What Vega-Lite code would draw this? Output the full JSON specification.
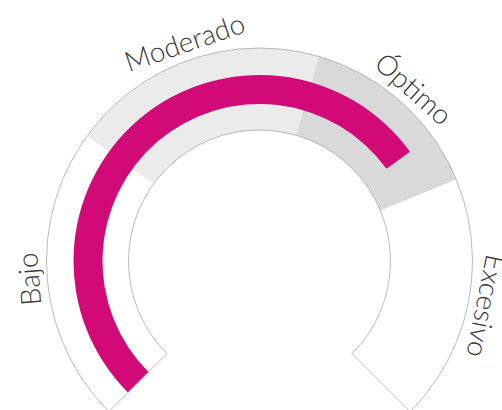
{
  "$schema": "https://vega.github.io/schema/vega-lite/v6.json",
  "autosize": "none",
  "width": 485,
  "height": 298,
  "padding": {"left": 17, "top": 112, "right": 0, "bottom": 0},
  "background": "white",
  "config": {"view": {"stroke": null}},
  "datasets": {
    "bandas": [
      {"banda": "Bajo", "inicio": 0, "fin": 30},
      {"banda": "Moderado", "inicio": 30, "fin": 56},
      {"banda": "Óptimo", "inicio": 56, "fin": 75},
      {"banda": "Excesivo", "inicio": 75, "fin": 100}
    ],
    "valor": [{"inicio": 0, "valor": 70}],
    "marco": [{"inicio": 0, "fin": 100}]
  },
  "layer": [
    {
      "data": {"name": "bandas"},
      "mark": {"type": "arc", "radius": 213, "radius2": 131, "stroke": null},
      "encoding": {
        "theta": {"field": "inicio", "type": "quantitative", "stack": null, "scale": {"domain": [0, 100], "range": [-2.35619, 2.35619]}},
        "theta2": {"field": "fin"},
        "color": {"field": "banda", "type": "nominal", "legend": null,
          "scale": {"domain": ["Bajo", "Moderado", "Óptimo", "Excesivo"], "range": ["#ffffff", "#ebebeb", "#d9d9d9", "#ffffff"]}}
      }
    },
    {
      "data": {"name": "valor"},
      "mark": {"type": "arc", "radius": 186, "radius2": 157, "color": "#d10a78"},
      "encoding": {
        "theta": {"field": "inicio", "type": "quantitative", "stack": null},
        "theta2": {"field": "valor"}
      }
    },
    {
      "data": {"name": "marco"},
      "mark": {"type": "arc", "radius": 213, "radius2": 131, "fillOpacity": 0, "stroke": "#a8a8a8", "strokeWidth": 0.8},
      "encoding": {
        "theta": {"field": "inicio", "type": "quantitative", "stack": null},
        "theta2": {"field": "fin"}
      }
    },
    {
      "data": {"name": "bandas"},
      "transform": [{"calculate": "(datum.inicio + datum.fin) / 2", "as": "medio"}],
      "mark": {"type": "text", "radius": 229, "font": "Lato", "fontWeight": 300, "fontSize": 28, "color": "#3a3a3a", "align": "center", "baseline": "middle"},
      "encoding": {
        "theta": {"field": "medio", "type": "quantitative", "stack": null},
        "angle": {"field": "medio", "type": "quantitative", "legend": null, "scale": {"domain": [0, 100], "range": [-135, 135]}},
        "text": {"field": "banda", "type": "nominal"}
      }
    }
  ]
}
